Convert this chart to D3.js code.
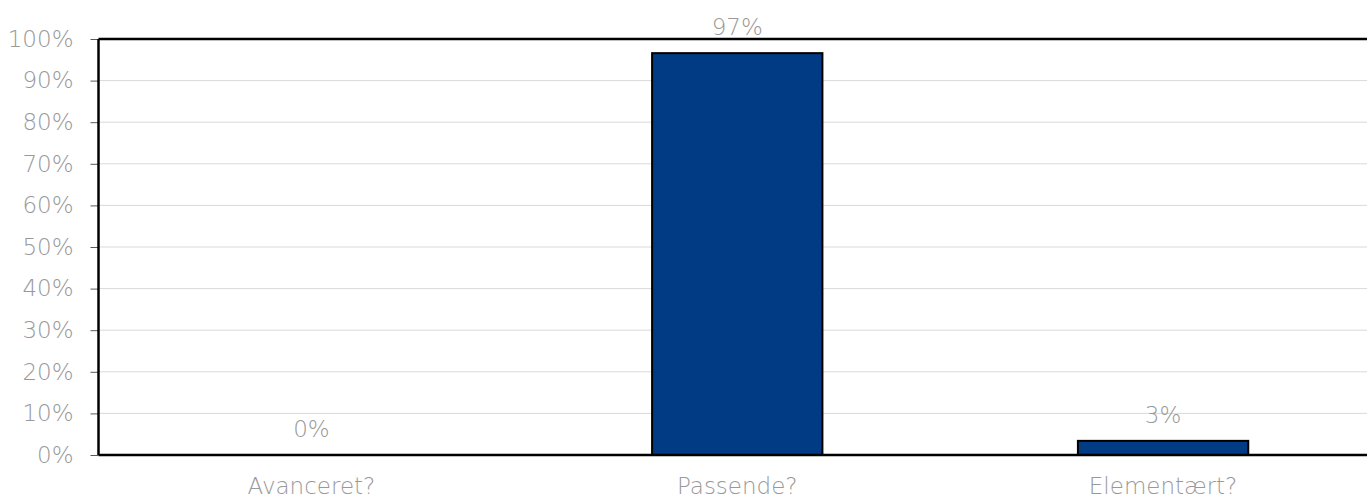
<!DOCTYPE html>
<html><head><meta charset="utf-8">
<script src="https://cdn.jsdelivr.net/npm/d3@7"></script>
<style>
html,body{margin:0;padding:0;background:#fff;}
svg{display:block;}
svg text{font-family:"DejaVu Sans",sans-serif !important;font-weight:200;}
</style></head>
<body>
<svg id="c" width="1367" height="500"></svg>
<script>
const categories = ["Avanceret?", "Passende?", "Elementært?"];
const values = [0, 0.966, 0.034];
const valueLabels = ["0%", "97%", "3%"];
const yTicks = [0,0.1,0.2,0.3,0.4,0.5,0.6,0.7,0.8,0.9,1.0];

const svg = d3.select("#c");
const L = 98.5, R = 1376, T = 39, B = 455;
const x = d3.scaleBand().domain(categories).range([L, R]).paddingInner(0.6).paddingOuter(0.3);
const y = d3.scaleLinear().domain([0,1]).range([B, T]);
const textCol = "#999999";
const fs = 23;

// gridlines
svg.append("g").selectAll("line").data(yTicks.filter(d=>d>0 && d<1)).join("line")
  .attr("x1", L).attr("x2", 1367).attr("y1", d=>y(d)).attr("y2", d=>y(d))
  .attr("stroke", "#d9d9d9").attr("stroke-width", 1);

// y axis
const yAxis = d3.axisLeft(y).tickValues(yTicks).tickFormat(d3.format(".0%")).tickSize(8).tickPadding(17);
const gy = svg.append("g").attr("transform", `translate(${L},0)`).call(yAxis);
gy.select(".domain").remove();
gy.selectAll(".tick line").attr("stroke", "#595959").attr("stroke-width", 1);
gy.selectAll(".tick text").attr("fill", textCol).style("font-size", fs+"px");

// bars
svg.append("g").selectAll("rect").data(values).join("rect")
  .attr("x", (d,i)=>x(categories[i])).attr("width", x.bandwidth())
  .attr("y", d=>y(d)).attr("height", d=>B - y(d))
  .attr("fill", "#003B84").attr("stroke", "#000").attr("stroke-width", 2)
  .attr("display", d=> d>0 ? null : "none");

// frame: top, left
svg.append("line").attr("x1", L).attr("x2", 1367).attr("y1", T).attr("y2", T).attr("stroke","#000").attr("stroke-width",2.5);
svg.append("line").attr("x1", L).attr("x2", L).attr("y1", T).attr("y2", B).attr("stroke","#000").attr("stroke-width",2.5);

// x axis
const xAxis = d3.axisBottom(x).tickSize(0).tickPadding(23);
const gx = svg.append("g").attr("transform", `translate(0,${B})`).call(xAxis);
gx.select(".domain").remove();
gx.selectAll(".tick text").attr("fill", textCol).style("font-size", fs+"px");
svg.append("line").attr("x1", L).attr("x2", 1367).attr("y1", B).attr("y2", B).attr("stroke","#000").attr("stroke-width",2.5);

// value labels
svg.append("g").selectAll("text").data(values).join("text")
  .attr("x", (d,i)=>x(categories[i]) + x.bandwidth()/2)
  .attr("y", d=>y(d) - 18)
  .attr("text-anchor", "middle").attr("fill", textCol).style("font-size", fs+"px")
  .text((d,i)=>valueLabels[i]);
</script>
</body></html>
